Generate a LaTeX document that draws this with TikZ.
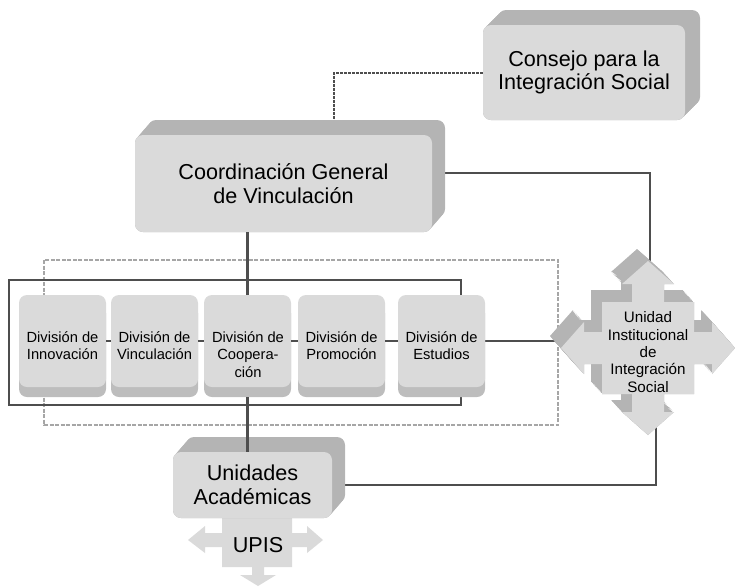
\documentclass[tikz,border=0pt]{standalone}
\usepackage{fontspec}
\setmainfont{Liberation Sans}
\usetikzlibrary{backgrounds}

\definecolor{facegray}{HTML}{DADADA}
\definecolor{sidegray}{HTML}{B4B4B4}
\definecolor{bandgray}{HTML}{BDBDBD}
\definecolor{linegray}{HTML}{4E4E4E}
\definecolor{dashgray}{HTML}{A6A6A6}

\newcommand{\bigfont}{\fontsize{21.6}{23.5}\selectfont}
\newcommand{\divfont}{\fontsize{14.7}{17.6}\selectfont}
\newcommand{\uisfont}{\fontsize{15.2}{17.3}\selectfont}

% four-way arrow, drawn round its centre
\newcommand{\quadarrow}[2]{%
  \fill[#2, shift={#1}] (0,-87) -- (26,-64) -- (16,-64) -- (16,-46) -- (46,-46)
    -- (46,-16) -- (64,-16) -- (64,-26) -- (87,0) -- (64,26) -- (64,16)
    -- (46,16) -- (46,46) -- (16,46) -- (16,64) -- (26,64) -- (0,87)
    -- (-26,64) -- (-16,64) -- (-16,46) -- (-46,46) -- (-46,16) -- (-64,16)
    -- (-64,26) -- (-87,0) -- (-64,-26) -- (-64,-16) -- (-46,-16) -- (-46,-46)
    -- (-16,-46) -- (-16,-64) -- (-26,-64) -- cycle;}

\tikzset{
  bigbox/.style={fill=facegray, rounded corners=8pt, align=center,
    font=\bigfont, inner sep=0pt},
  divbox/.style={fill=facegray, rounded corners=8pt, minimum width=87pt,
    minimum height=92pt, inner sep=0pt},
  divtext/.style={align=center, font=\divfont, inner sep=0pt, anchor=north},
  uistext/.style={align=center, font=\uisfont, inner sep=0pt},
  link/.style={draw=linegray, line width=2.4pt},
  dashlink/.style={draw=linegray, line width=2pt, dash pattern=on 3pt off 1pt},
  dashrect/.style={draw=dashgray, line width=2pt, dash pattern=on 4pt off 1.5pt},
}

\begin{document}
\begin{tikzpicture}[x=1pt, y=-1pt]
    \useasboundingbox (0,0) rectangle (735,587);

    % Consejo
    \foreach \k in {0,...,10}
        \fill[sidegray, rounded corners=8pt] (483+1.5*\k,25-1.5*\k) rectangle ++(202,95);
    \node[bigbox, minimum width=202pt, minimum height=95pt] (consejo) at (584,72.5)
        {Consejo para la\\Integración Social};

    % Coordinacion
    \foreach \k in {0,...,10}
        \fill[sidegray, rounded corners=8pt] (135+1.3*\k,135-1.5*\k) rectangle ++(297,97);
    \node[bigbox, minimum width=297pt, minimum height=97pt] (coord) at (283.5,183.5)
        {Coordinación General\\de Vinculación};

    % divisiones
    \foreach \x/\n in {19/innov, 111/vinc, 204/coop, 298/prom, 398/estud} {
        \fill[bandgray, rounded corners=8pt] (\x,305) rectangle ++(87,92);
        \node[divbox] (\n) at (\x+43.5,341) {};
    }
    \node[divtext] (innovt) at (62.5,331) {División de\\Innovación};
    \node[divtext] (vinct) at (154.5,331) {División de\\Vinculación};
    \node[divtext] (coopt) at (248,331) {División de\\Coopera-\\ción};
    \node[divtext] (promt) at (341.5,331) {División de\\Promoción};
    \node[divtext] (estudt) at (441.5,331) {División de\\Estudios};

    % Unidad Institucional
    \foreach \k in {0,...,10}
        \quadarrow{(648-1.1*\k,348-1.2*\k)}{sidegray};
    \quadarrow{(648,348)}{facegray}
    \node[uistext] (uis) at (648,352) {Unidad\\Institucional\\de\\Integración\\Social};

    % UPIS
    \fill[facegray] (222,510) -- (292,510) -- (292,533) -- (307,533) -- (307,526)
        -- (323,540) -- (307,553) -- (307,547) -- (292,547) -- (292,567)
        -- (264,567) -- (264,575) -- (276,575) -- (258,586) -- (240,575)
        -- (252,575) -- (252,567) -- (222,567) -- (222,547) -- (205,547)
        -- (205,553) -- (188,540) -- (205,526) -- (205,533) -- (222,533) -- cycle;
    \node[bigbox, fill=none] (upis) at (258,545) {UPIS};

    % Unidades Academicas
    \foreach \k in {0,...,10}
        \fill[sidegray, rounded corners=8pt] (173+1.3*\k,452-1.5*\k) rectangle ++(159,66);
    \node[bigbox, minimum width=159pt, minimum height=66pt] (unid) at (252.5,485)
        {Unidades\\Académicas};

    \begin{pgfonlayer}{background}
        \draw[dashrect] (44,260) rectangle (558,425);
        \draw[link] (9,280) rectangle (461,405);
        \draw[dashlink] (consejo.west) -| ([xshift=50.5pt]coord.north);
        \draw[link] ([yshift=10.5pt]coord.east) -| ([xshift=2pt]uis.north);
        \draw[link] (estud.east) -- (estud.east -| uis.west);
        \draw[link] (unid.east) -| ([xshift=8pt]uis.south);
    \end{pgfonlayer}

    \draw[link] (coord.south -| coop.north) -- (coop.north);
    \draw[link] ([yshift=-10pt]coop.south) -- (coop.south |- unid.north);
    \draw[link] (innov.east) -- (vinc.west);
    \draw[link] (vinc.east) -- (coop.west);
    \draw[link] (coop.east) -- (prom.west);
    \draw[link] (prom.east) -- (estud.west);

\end{tikzpicture}
\end{document}
